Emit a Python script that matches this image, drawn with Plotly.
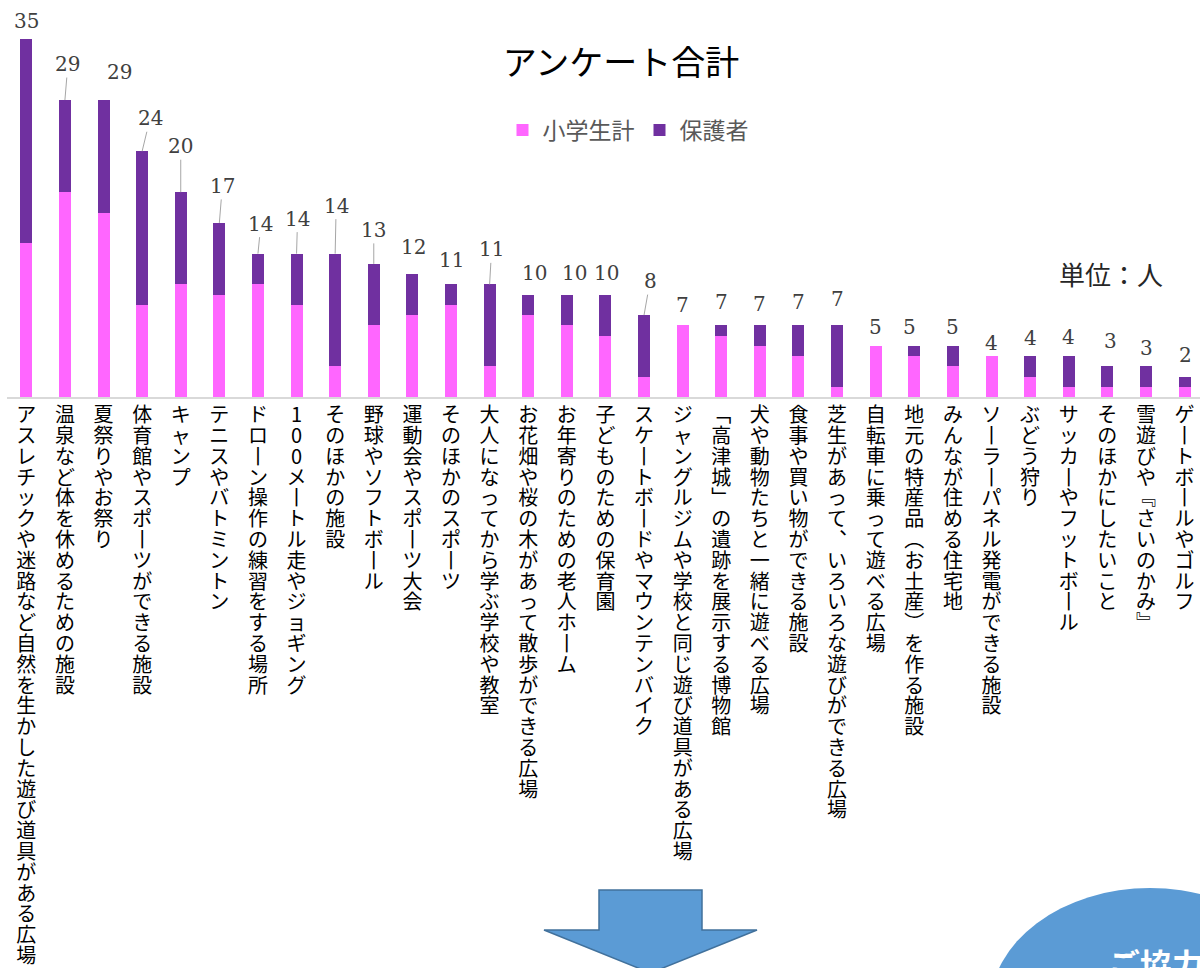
import plotly.graph_objects as go

# ---------------- data ----------------
categories = [
    "アスレチックや迷路など自然を生かした遊び道具がある広場",
    "温泉など体を休めるための施設",
    "夏祭りやお祭り",
    "体育館やスポーツができる施設",
    "キャンプ",
    "テニスやバトミントン",
    "ドローン操作の練習をする場所",
    "100メートル走やジョギング",
    "そのほかの施設",
    "野球やソフトボール",
    "運動会やスポーツ大会",
    "そのほかのスポーツ",
    "大人になってから学ぶ学校や教室",
    "お花畑や桜の木があって散歩ができる広場",
    "お年寄りのための老人ホーム",
    "子どものための保育園",
    "スケートボードやマウンテンバイク",
    "ジャングルジムや学校と同じ遊び道具がある広場",
    "「高津城」の遺跡を展示する博物館",
    "犬や動物たちと一緒に遊べる広場",
    "食事や買い物ができる施設",
    "芝生があって、いろいろな遊びができる広場",
    "自転車に乗って遊べる広場",
    "地元の特産品(お土産)を作る施設",
    "みんなが住める住宅地",
    "ソーラーパネル発電ができる施設",
    "ぶどう狩り",
    "サッカーやフットボール",
    "そのほかにしたいこと",
    "雪遊びや『さいのかみ』",
    "ゲートボールやゴルフ",
]
students = [15, 20, 18, 9, 11, 10, 11, 9, 3, 7, 8, 9, 3, 8, 7, 6, 2, 7, 6, 5, 4, 1, 5, 4, 3, 4, 2, 1, 1, 1, 1]
parents = [20, 9, 11, 15, 9, 7, 3, 5, 11, 6, 4, 2, 8, 2, 3, 4, 6, 0, 1, 2, 3, 6, 0, 1, 2, 0, 2, 3, 2, 2, 1]
series_names = ["小学生計", "保護者"]
title_text = "アンケート合計"
unit_text = "単位：人"
footer_text = "ご協力ありがとうございました"

# ---------------- styles ----------------
PINK = "#ff66ff"
PURPLE = "#7030a0"
JP = "Noto Sans CJK JP"

# label offsets (dx, dy in px from bar top, leader line flag)
label_offsets = [
    (0, -18, False), (3, -36, True), (16, -28, False), (8, -33, True), (0, -46, True),
    (3, -37, True), (3, -30, True), (1, -35, True), (1, -48, True), (0, -34, True),
    (1, -27, False), (0, -24, False), (2, -35, True), (6, -22, False), (8, -22, False),
    (1, -22, False), (6, -34, True), (0, -20, False), (0, -23, False), (0, -21, False),
    (0, -23, False), (0, -26, False), (0, -19, False), (-5, -19, False), (0, -19, False),
    (0, -13, False), (0, -18, False), (0, -19, False), (3, -25, False), (1, -18, False),
    (1, -22, False),
]

VERT_MAP = {
    "ー": "丨", "「": "﹁", "」": "﹂", "『": "﹃", "』": "﹄",
    "(": "︵", ")": "︶", "（": "︵", "）": "︶", "、": "︑",
}


def vertical(s):
    return "<br>".join('<span style="font-size:20px">%s</span>' % VERT_MAP.get(c, c) for c in s)


W, H = 1200, 968
ML, MR, MT, MB = 7, 0, 0, 571
PW, PH = W - ML - MR, H - MT - MB


def px_x(px):
    return (px - ML) / PW


def px_y(py):
    return (MT + PH - py) / PH


fig = go.Figure()
fig.add_trace(go.Bar(x=categories, y=students, name=series_names[0],
                     marker=dict(color=PINK, line=dict(width=0)), width=0.31))
fig.add_trace(go.Bar(x=categories, y=parents, name=series_names[1],
                     marker=dict(color=PURPLE, line=dict(width=0)), width=0.31))

totals = [a + b for a, b in zip(students, parents)]
annotations = []
for cat, tot, (dx, dy, leader) in zip(categories, totals, label_offsets):
    base = dict(x=cat, y=tot, xref="x", yref="y", text=str(tot),
                font=dict(family="DejaVu Serif", size=20, color="#404040"))
    if leader:
        base.update(showarrow=True, arrowhead=0, arrowwidth=1, arrowcolor="#a6a6a6",
                    ax=dx, ay=dy, standoff=0)
    else:
        base.update(showarrow=False, xanchor="center", yanchor="middle",
                    xshift=dx, yshift=-dy)
    annotations.append(base)

annotations.append(dict(x=px_x(1111), y=px_y(273), xref="paper", yref="paper",
                        text=unit_text, showarrow=False, xanchor="center", yanchor="middle",
                        font=dict(family=JP, size=26, color="#262626")))

shapes = [
    dict(type="circle", xref="paper", yref="paper",
         x0=px_x(990), x1=px_x(1310), y0=px_y(1128), y1=px_y(888),
         fillcolor="#5b9bd5", line=dict(width=0), layer="above"),
]
arrow_pts = [(599, 890), (702, 890), (702, 930), (757, 930), (650.5, 973), (544, 930), (599, 930)]
path = "M " + " L ".join("%f,%f" % (px_x(x), px_y(y)) for x, y in arrow_pts) + " Z"
shapes.append(dict(type="path", xref="paper", yref="paper", path=path,
                   fillcolor="#5b9bd5", line=dict(color="#41719c", width=1.5), layer="above"))

annotations.append(dict(x=px_x(1106), y=px_y(938), xref="paper", yref="paper",
                        text="<b>%s</b>" % footer_text, showarrow=False,
                        xanchor="left", yanchor="top",
                        font=dict(family=JP, size=32, color="white")))

fig.update_layout(
    width=W, height=H,
    margin=dict(l=ML, r=MR, t=MT, b=MB, pad=0),
    paper_bgcolor="white", plot_bgcolor="white",
    barmode="stack",
    title=dict(text=title_text, x=621 / W, xanchor="center", y=1 - 63 / H, yanchor="middle",
               font=dict(family=JP, size=34, color="#000000")),
    legend=dict(orientation="h", x=px_x(628), xanchor="center", y=px_y(130), yanchor="middle",
                font=dict(family=JP, size=23, color="#595959"), traceorder="normal",
                bgcolor="rgba(0,0,0,0)"),
    xaxis=dict(type="category", range=[-0.5, 30.4], showline=True, linecolor="#d9d9d9",
               linewidth=2, ticks="", tickangle=0, tickvals=categories,
               ticktext=[vertical(c) for c in categories],
               tickfont=dict(family=JP, size=16, color="#000000"),
               ticklabelstandoff=4,
               showgrid=False, zeroline=False, automargin=False, fixedrange=True),
    yaxis=dict(range=[0, PH / 10.24], visible=False, showgrid=False, zeroline=False,
               fixedrange=True),
    annotations=annotations,
    shapes=shapes,
    showlegend=True,
)

fig.write_html("out.html")
